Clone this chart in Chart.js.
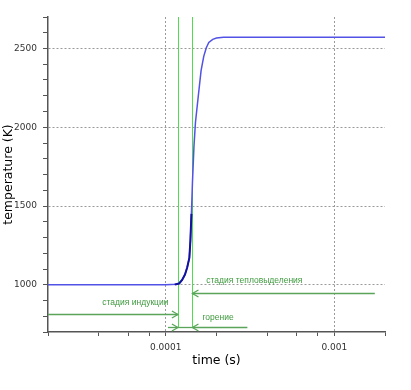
<!DOCTYPE html>
<html>
<head>
<meta charset="UTF-8">
<title>temperature</title>
<script src="https://cdn.jsdelivr.net/npm/chart.js@4.4.1/dist/chart.umd.min.js"></script>
<style>
  body { margin: 0; background: #fff; }
</style>
</head>
<body>
<canvas id="myChart" width="411" height="390"></canvas>

<script>
// temperature curve
const timeS = [2e-5, 1e-4, 1.15e-4, 1.2e-4, 1.25e-4, 1.3e-4, 1.34e-4, 1.38e-4, 1.4e-4, 1.42e-4,
               1.44e-4, 1.47e-4, 1.5e-4, 1.56e-4, 1.62e-4, 1.68e-4, 1.74e-4, 1.8e-4, 1.9e-4,
               2.0e-4, 2.2e-4, 2.5e-4, 2e-3];
const tempK = [1000, 1000, 1003, 1008, 1030, 1065, 1110, 1170, 1280, 1450,
               1650, 1880, 2030, 2200, 2360, 2450, 2505, 2538, 2558,
               2566, 2571, 2572, 2572];
// darker part of the curve near the start of the rise
const darkTime = [1.13e-4, 1.15e-4, 1.2e-4, 1.25e-4, 1.3e-4, 1.34e-4, 1.38e-4, 1.4e-4, 1.42e-4];
const darkTemp = [1001, 1003, 1008, 1030, 1065, 1110, 1170, 1280, 1450];

const xTicks = [2e-5, 4e-5, 6e-5, 8e-5, 1e-4, 2e-4, 4e-4, 6e-4, 8e-4, 1e-3, 2e-3];
const xLabels = [1e-4, 1e-3];
const yLabels = [1000, 1500, 2000, 2500];

// stage markers (time of vertical lines) and arrows, in data units
const stageTimes = [1.18e-4, 1.44e-4];
const stageBottom = 732;
const arrowFrom = [2e-5, 1.74e-3, 1.03e-4, 3.05e-4, 1.18e-4];
const arrowTo   = [1.18e-4, 1.44e-4, 1.18e-4, 1.44e-4, 1.44e-4];
const arrowTemp = [817, 947, 732, 732, 732];
const arrowHead = [true, true, true, true, false];
const noteText = ['стадия индукции', 'стадия тепловыделения', 'горение'];
const noteTime = [6.6e-5, 1.74e-4, 1.65e-4];
const noteTemp = [885, 1025, 792];
const noteAlign = ['center', 'left', 'left'];

function pts(xs, ys) {
  return xs.map((x, i) => ({x: x, y: ys[i]}));
}

const stagePlugin = {
  id: 'stages',
  beforeDatasetsDraw(chart) {
    const ctx = chart.ctx, xs = chart.scales.x, ys = chart.scales.y;
    ctx.save();
    ctx.strokeStyle = '#4fdc4f';
    ctx.lineWidth = 1;
    stageTimes.forEach(t => {
      const px = Math.round(xs.getPixelForValue(t)) + 0.5;
      ctx.beginPath();
      ctx.moveTo(px, chart.chartArea.top);
      ctx.lineTo(px, ys.getPixelForValue(stageBottom));
      ctx.stroke();
    });
    ctx.restore();
  },
  afterDatasetsDraw(chart) {
    const ctx = chart.ctx, xs = chart.scales.x, ys = chart.scales.y;
    ctx.save();
    ctx.strokeStyle = '#5aa55a';
    ctx.lineWidth = 1.3;
    for (let i = 0; i < arrowFrom.length; i++) {
      const x1 = xs.getPixelForValue(arrowFrom[i]);
      const x2 = xs.getPixelForValue(arrowTo[i]);
      const y = Math.round(ys.getPixelForValue(arrowTemp[i])) + 0.5;
      ctx.beginPath();
      ctx.moveTo(x1, y);
      ctx.lineTo(x2, y);
      ctx.stroke();
      if (arrowHead[i]) {
        const d = x2 > x1 ? -1 : 1;
        ctx.beginPath();
        ctx.moveTo(x2 + d * 6, y - 3.5);
        ctx.lineTo(x2, y);
        ctx.lineTo(x2 + d * 6, y + 3.5);
        ctx.stroke();
      }
    }
    ctx.fillStyle = '#3e9a3e';
    ctx.font = '8.5px "Liberation Sans"';
    ctx.textBaseline = 'middle';
    noteText.forEach((s, i) => {
      ctx.textAlign = noteAlign[i];
      ctx.fillText(s, xs.getPixelForValue(noteTime[i]), ys.getPixelForValue(noteTemp[i]));
    });
    ctx.restore();
  }
};

new Chart('myChart', {
  type: 'line',
  data: {
    datasets: [
      {
        data: pts(darkTime, darkTemp),
        borderColor: '#12129e',
        borderWidth: 2,
        pointRadius: 0,
        tension: 0
      },
      {
        data: pts(timeS, tempK),
        borderColor: '#5252e6',
        borderWidth: 1.5,
        pointRadius: 0,
        tension: 0
      }
    ]
  },
  options: {
    responsive: false,
    animation: false,
    layout: {padding: {top: 17, right: 26, left: 0, bottom: 0}},
    plugins: {legend: {display: false}, tooltip: {enabled: false}},
    scales: {
      x: {
        type: 'logarithmic',
        min: 2e-5,
        max: 2e-3,
        afterBuildTicks: s => { s.ticks = xTicks.map(v => ({value: v})); },
        afterFit: s => { s.height = 58; },
        ticks: {
          autoSkip: false,
          maxRotation: 0,
          padding: 6,
          color: '#333',
          font: {family: 'DejaVu Sans', size: 9},
          callback: v => xLabels.includes(v) ? String(v) : ''
        },
        grid: {
          color: c => c.tick && xLabels.includes(c.tick.value) ? '#9a9a9a' : 'rgba(0,0,0,0)',
          tickColor: '#555',
          tickLength: 4,
          lineWidth: 1
        },
        border: {color: '#555', width: 1.5, dash: [2, 2]},
        title: {
          display: true,
          text: 'time (s)',
          color: '#000',
          font: {family: 'DejaVu Sans', size: 12.5},
          padding: {top: 0, bottom: 22}
        }
      },
      y: {
        min: 700,
        max: 2700,
        afterFit: s => { s.width = 48; },
        ticks: {
          stepSize: 100,
          padding: 6,
          color: '#333',
          font: {family: 'DejaVu Sans', size: 9},
          callback: v => yLabels.includes(v) ? String(v) : ''
        },
        grid: {
          color: c => c.tick && yLabels.includes(c.tick.value) ? '#9a9a9a' : 'rgba(0,0,0,0)',
          tickColor: '#555',
          tickLength: 5,
          lineWidth: 1
        },
        border: {color: '#555', width: 1.5, dash: [2, 2]},
        title: {
          display: true,
          text: 'temperature (K)',
          color: '#000',
          font: {family: 'DejaVu Sans', size: 12.5},
          padding: {top: 1, bottom: 0}
        }
      }
    }
  },
  plugins: [stagePlugin]
});
</script>
</body>
</html>
